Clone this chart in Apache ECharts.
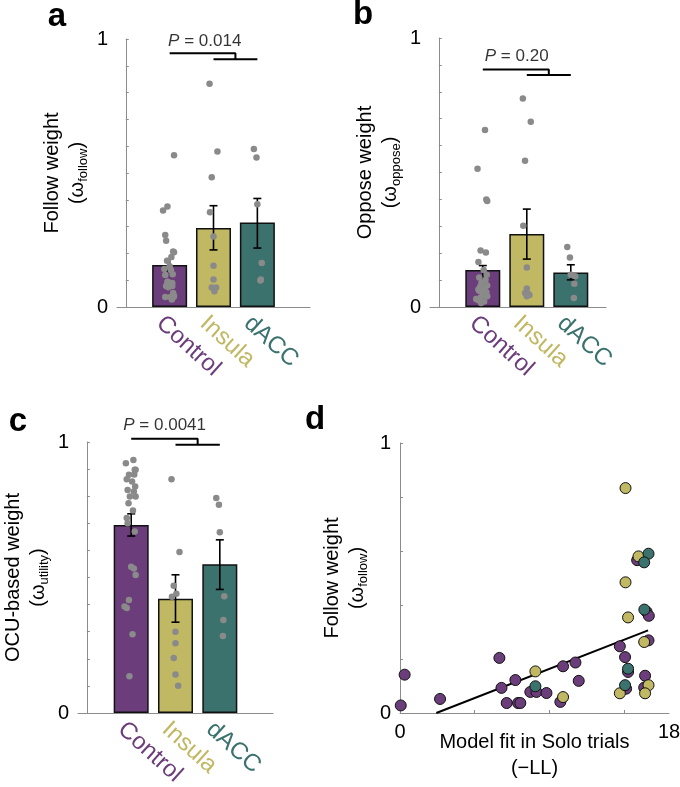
<!DOCTYPE html>
<html><head><meta charset="utf-8">
<script src="https://cdn.jsdelivr.net/npm/echarts@6/dist/echarts.min.js"></script>
<style>html,body{margin:0;padding:0;background:#fff}#c{width:680px;height:787px}</style>
</head><body><div id="c"></div>
<script>
// ---------- DATA ----------
const categories = ['Control', 'Insula', 'dACC'];
const groupColors = ['#6b3d7b', '#c0b862', '#3b726e'];

// Panel a: follow weight
const followMean = [0.157, 0.295, 0.315];
const followLow  = [0.135, 0.213, 0.220];
const followHigh = [0.180, 0.378, 0.405];
const followControl = [0.028,0.142,0.052,0.204,0.093,0.122,0.037,0.037,0.037,0.078,0.078,0.074,0.041,0.173,0.187,0.119,0.247,0.207,0.152,0.090,0.566,0.375,0.360,0.269,0.138,0.094];
const followInsula  = [0.833,0.580,0.484,0.354,0.263,0.154,0.073,0.103,0.073,0.059];
const followDACC    = [0.590,0.558,0.383,0.164,0.103,0.099];

// Panel b: oppose weight
const opposeMean = [0.138, 0.271, 0.128];
const opposeLow  = [0.108, 0.178, 0.101];
const opposeHigh = [0.154, 0.364, 0.157];
const opposeControl = [0.658,0.514,0.400,0.394,0.210,0.203,0.167,0.138,0.120,0.110,0.100,0.090,0.080,0.075,0.070,0.065,0.060,0.055,0.050,0.045,0.040,0.035,0.030,0.025,0.020,0.015];
const opposeInsula  = [0.775,0.689,0.544,0.302,0.147,0.069,0.052,0.040,0.045,0.050];
const opposeDACC    = [0.223,0.184,0.120,0.114,0.086,0.033];

// Panel c: OCU-based weight
const utilityMean = [0.694, 0.422, 0.549];
const utilityLow  = [0.653, 0.335, 0.456];
const utilityHigh = [0.735, 0.510, 0.639];
const utilityControl = [0.934,0.922,0.898,0.898,0.879,0.880,0.863,0.854,0.836,0.823,0.817,0.799,0.799,0.774,0.747,0.720,0.700,0.670,0.540,0.533,0.509,0.417,0.393,0.387,0.291,0.136];
const utilityInsula  = [0.863,0.594,0.470,0.429,0.300,0.257,0.203,0.142,0.101,0.440];
const utilityDACC    = [0.793,0.768,0.667,0.431,0.343,0.284];

// Panel d: model fit in Solo trials (-LL), paired with follow weights above
const fitControl = [0.05,0.31,2.68,6.65,6.79,7.72,7.14,7.90,8.05,8.72,9.13,9.80,10.73,10.91,11.74,11.96,14.71,15.06,15.26,15.13,15.87,16.50,16.65,16.63,16.40,16.34];
const fitInsula  = [15.09,15.96,15.09,15.26,16.34,9.06,14.71,16.63,16.40,10.91];
const fitDACC    = [16.63,16.34,16.35,15.26,15.06,9.06];
const fitLineX = [2.43, 16.6];
const fitLineY = [0.0, 0.306];

// horizontal jitter of individual dots (category units)
const jitterControl = [0.05,-0.12,0.08,0.10,-0.05,0.07,-0.10,0.02,0.09,-0.08,0.06,-0.03,0.10,-0.06,0.04,-0.10,-0.08,0.08,0.00,0.06,0.10,-0.05,-0.15,-0.10,0.03,-0.04];
const jitterInsula  = [-0.09,0.09,-0.04,-0.08,0.00,0.00,-0.04,0.00,0.06,0.02];
const jitterDACC    = [-0.08,-0.02,0.00,0.10,0.08,0.07];

// significance annotations
const pLabels = ['0.014', '0.20', '0.0041'];
const bracketTop = [0.947, 0.883, 1.012];
const bracketBottom = [0.924, 0.862, 0.990];
const pTextX = [1.80, 1.77, 1.755];
const pTextY = [0.993, 0.932, 1.06];

// ---------- CHART ----------
const FONT = 'Liberation Sans, Arial, Helvetica, sans-serif';
const AXIS_GREY = '#8c8c8c';
const chart = echarts.init(document.getElementById('c'), null, {renderer: 'canvas'});

const grids = [
  {left: 117, top: 39, width: 193, height: 268},
  {left: 430, top: 38, width: 176, height: 269},
  {left: 78, top: 442, width: 195, height: 271},
  {left: 400, top: 443, width: 269, height: 270}
].map(g => Object.assign({outerBoundsMode: 'none', containLabel: false}, g));

const catRich = {};
categories.forEach((c, i) => { catRich['c' + i] = {color: groupColors[i], fontSize: 24, lineHeight: 30, fontFamily: FONT}; });

function catXAxis(gi, max) {
  return {
    type: 'value', gridIndex: gi, min: -0.2, max: max,
    axisLine: {show: true, lineStyle: {color: AXIS_GREY, width: 1}},
    axisTick: {show: false}, splitLine: {show: false},
    axisLabel: {
      show: true, customValues: [1, 2, 3], rotate: -42, align: 'left', verticalAlign: 'top', margin: 2,
      formatter: v => { const i = Math.round(v) - 1; return categories[i] ? '{c' + i + '|' + categories[i] + '}' : ''; },
      rich: catRich
    }
  };
}

function nameRich() {
  return {
    t: {fontSize: 20, lineHeight: 25, fontFamily: FONT, color: '#000'},
    p: {fontSize: 20, lineHeight: 25, fontFamily: FONT, color: '#000'},
    s: {fontSize: 13, lineHeight: 13, fontFamily: FONT, color: '#000', verticalAlign: 'bottom'}
  };
}

function yAxis(gi, title, sub, gap, interval) {
  return {
    type: 'value', gridIndex: gi, min: 0, max: 1, interval: interval,
    name: '{t|' + title + '}\n{p|(ω}{s|' + sub + '}{p|)}',
    nameLocation: 'middle', nameRotate: 90, nameGap: gap, nameMoveOverlap: false,
    nameTextStyle: {rich: nameRich()},
    axisLine: {show: true, lineStyle: {color: AXIS_GREY, width: 1}},
    axisTick: {show: true, inside: true, length: 3, lineStyle: {color: AXIS_GREY}},
    splitLine: {show: false},
    axisLabel: {show: true, margin: 9, fontSize: 20, color: '#000', fontFamily: FONT,
      formatter: v => (v === 0 || v === 1) ? String(v) : ''}
  };
}

const xAxes = [
  catXAxis(0, 4.2), catXAxis(1, 3.8), catXAxis(2, 4.2),
  {
    type: 'value', gridIndex: 3, min: 0, max: 18,
    name: '{t|Model fit in Solo trials}\n{t|(\u2212LL)}', nameLocation: 'middle', nameGap: 16, nameMoveOverlap: false,
    nameTextStyle: {rich: {t: {fontSize: 20, lineHeight: 26, fontFamily: FONT, color: '#000'}}},
    axisLine: {show: true, lineStyle: {color: AXIS_GREY, width: 1}},
    axisTick: {show: true, inside: true, length: 3, customValues: [0, 5, 10, 15], lineStyle: {color: AXIS_GREY}},
    splitLine: {show: false},
    axisLabel: {show: true, customValues: [0, 18], margin: 9, fontSize: 20, color: '#000', fontFamily: FONT}
  }
];

const yAxes = [
  yAxis(0, 'Follow weight', 'follow', 27, 0.1),
  yAxis(1, 'Oppose weight', 'oppose', 27, 0.1),
  yAxis(2, 'OCU-based weight', 'utility', 27, 0.1),
  yAxis(3, 'Follow weight', 'follow', 30, 0.2)
];

const series = [];

function addBarPanel(pi, means, lows, highs, groups) {
  series.push({
    type: 'bar', xAxisIndex: pi, yAxisIndex: pi, barWidth: 35, z: 2,
    data: means.map((m, i) => ({value: [i + 1, m], itemStyle: {color: groupColors[i]}})),
    itemStyle: {borderColor: '#111', borderWidth: 1.5}, silent: true
  });
  series.push({
    type: 'custom', xAxisIndex: pi, yAxisIndex: pi, z: 3, silent: true,
    encode: {x: 0, y: [1, 2]},
    data: lows.map((l, i) => [i + 1, l, highs[i]]),
    renderItem: (params, api) => {
      const x = api.value(0);
      const lo = api.coord([x, api.value(1)]);
      const hi = api.coord([x, api.value(2)]);
      const cw = 4, st = {stroke: '#000', lineWidth: 1.6};
      return {type: 'group', children: [
        {type: 'line', shape: {x1: lo[0], y1: lo[1], x2: hi[0], y2: hi[1]}, style: st},
        {type: 'line', shape: {x1: lo[0] - cw, y1: lo[1], x2: lo[0] + cw, y2: lo[1]}, style: st},
        {type: 'line', shape: {x1: hi[0] - cw, y1: hi[1], x2: hi[0] + cw, y2: hi[1]}, style: st}
      ]};
    }
  });
  const jit = [jitterControl, jitterInsula, jitterDACC];
  const pts = [];
  groups.forEach((vals, g) => vals.forEach((v, i) => pts.push([g + 1 + jit[g][i], v])));
  series.push({
    type: 'scatter', xAxisIndex: pi, yAxisIndex: pi, z: 4, silent: true,
    symbolSize: 6.5, itemStyle: {color: '#8a8a8a', opacity: 1}, data: pts
  });
  // significance bracket
  series.push({
    type: 'line', xAxisIndex: pi, yAxisIndex: pi, z: 5, clip: false, silent: true, symbol: 'none',
    lineStyle: {color: '#000', width: 2},
    data: [[1, bracketTop[pi]], [2.5, bracketTop[pi]], [2.5, bracketBottom[pi]]]
  });
  series.push({
    type: 'line', xAxisIndex: pi, yAxisIndex: pi, z: 5, clip: false, silent: true, symbol: 'none',
    lineStyle: {color: '#000', width: 2},
    data: [[2, bracketBottom[pi]], [3, bracketBottom[pi]]]
  });
  series.push({
    type: 'scatter', xAxisIndex: pi, yAxisIndex: pi, z: 6, clip: false, silent: true,
    symbolSize: 0, data: [[pTextX[pi], pTextY[pi]]],
    label: {show: true, position: 'inside', formatter: '{i|P} = ' + pLabels[pi],
      fontSize: 17, color: '#000', fontFamily: FONT,
      rich: {i: {fontStyle: 'italic', fontSize: 17, color: '#000', fontFamily: FONT}}}
  });
}

addBarPanel(0, followMean, followLow, followHigh, [followControl, followInsula, followDACC]);
addBarPanel(1, opposeMean, opposeLow, opposeHigh, [opposeControl, opposeInsula, opposeDACC]);
addBarPanel(2, utilityMean, utilityLow, utilityHigh, [utilityControl, utilityInsula, utilityDACC]);

// Panel d
series.push({
  type: 'line', xAxisIndex: 3, yAxisIndex: 3, z: 2, silent: true, symbol: 'none',
  lineStyle: {color: '#000', width: 2},
  data: fitLineX.map((x, i) => [x, fitLineY[i]])
});
[[fitControl, followControl], [fitInsula, followInsula], [fitDACC, followDACC]].forEach((pair, g) => {
  series.push({
    type: 'scatter', xAxisIndex: 3, yAxisIndex: 3, z: 3 + g, silent: true, clip: false,
    symbolSize: 11,
    itemStyle: {color: groupColors[g], borderColor: '#111', borderWidth: 1, opacity: 1},
    data: pair[0].map((x, i) => [x, pair[1][i]])
  });
});

const letterStyle = {fontSize: 33, fontWeight: 'bold', fill: '#000', fontFamily: FONT, align: 'center', verticalAlign: 'middle'};
const graphic = [
  {type: 'text', x: 57, y: 17, style: Object.assign({text: 'a'}, letterStyle)},
  {type: 'text', x: 363, y: 15, style: Object.assign({text: 'b'}, letterStyle)},
  {type: 'text', x: 18, y: 422, style: Object.assign({text: 'c'}, letterStyle)},
  {type: 'text', x: 315, y: 420, style: Object.assign({text: 'd'}, letterStyle)}
];

chart.setOption({
  animation: false,
  backgroundColor: '#fff',
  textStyle: {fontFamily: FONT},
  grid: grids, xAxis: xAxes, yAxis: yAxes, series: series, graphic: graphic
});
</script>
</body></html>
